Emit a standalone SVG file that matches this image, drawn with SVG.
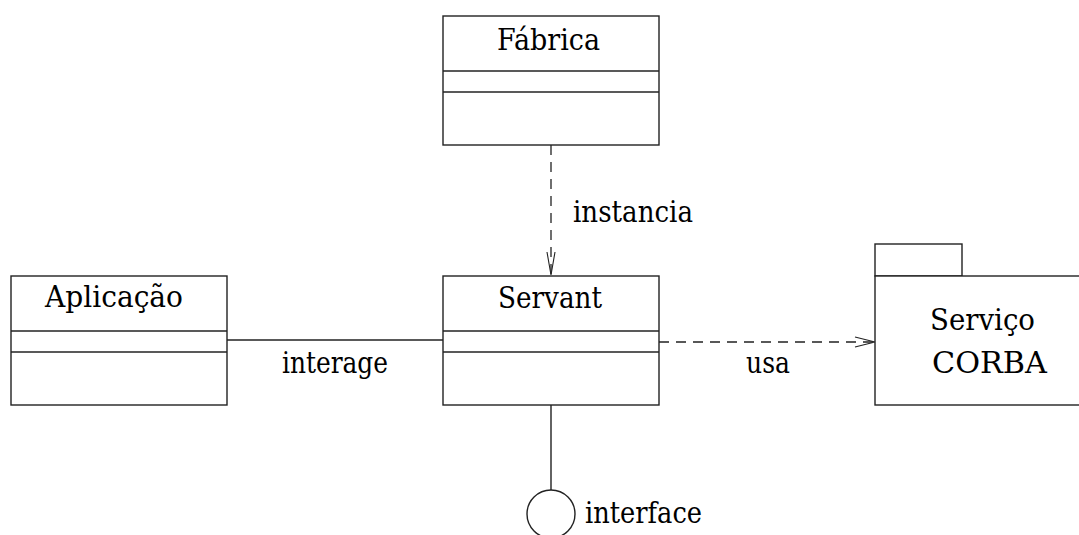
<svg xmlns="http://www.w3.org/2000/svg" width="1079" height="535" viewBox="0 0 1079 535">
  <style>
    .box { fill: #fff; stroke: #222; stroke-width: 1.4; }
    .ln { fill: none; stroke: #222; stroke-width: 1.4; }
    .dash { fill: none; stroke: #222; stroke-width: 1.3; stroke-dasharray: 10 7; }
    .head { fill: none; stroke: #222; stroke-width: 1.1; }
    .lbl { font-family: "DejaVu Serif", serif; font-size: 30px; fill: #000; }
  </style>
  <rect width="1079" height="535" fill="#fff"/>

  <g id="connectors">
    <!-- Aplicação — Servant association -->
    <line class="ln" x1="227" y1="340" x2="443" y2="340"/>
    <!-- Fábrica instantiates Servant -->
    <line class="dash" x1="551" y1="145" x2="551" y2="274"/>
    <polyline class="head" points="547,252 551,275 555,252"/>
    <!-- Servant uses Serviço CORBA -->
    <line class="dash" x1="659" y1="342" x2="874" y2="342"/>
    <polyline class="head" points="855,337 875,342 855,347"/>
    <!-- lollipop interface -->
    <line class="ln" x1="551" y1="405" x2="551" y2="490"/>
    <text class="lbl" x="282" y="373" textLength="106" lengthAdjust="spacingAndGlyphs">interage</text>
    <text class="lbl" x="573" y="222" textLength="120" lengthAdjust="spacingAndGlyphs">instancia</text>
    <text class="lbl" x="746" y="373" textLength="44" lengthAdjust="spacingAndGlyphs">usa</text>
  </g>

  <g id="fabrica">
    <rect class="box" x="443" y="16" width="216" height="129"/>
    <line class="ln" x1="443" y1="71" x2="659" y2="71"/>
    <line class="ln" x1="443" y1="92" x2="659" y2="92"/>
    <text class="lbl" x="497" y="50" textLength="103" lengthAdjust="spacingAndGlyphs">Fábrica</text>
  </g>

  <g id="aplicacao">
    <rect class="box" x="11" y="276" width="216" height="129"/>
    <line class="ln" x1="11" y1="331" x2="227" y2="331"/>
    <line class="ln" x1="11" y1="352" x2="227" y2="352"/>
    <text class="lbl" x="45" y="307" textLength="138" lengthAdjust="spacingAndGlyphs">Aplicação</text>
  </g>

  <g id="servant">
    <rect class="box" x="443" y="276" width="216" height="129"/>
    <line class="ln" x1="443" y1="331" x2="659" y2="331"/>
    <line class="ln" x1="443" y1="352" x2="659" y2="352"/>
    <text class="lbl" x="498" y="308" textLength="104" lengthAdjust="spacingAndGlyphs">Servant</text>
  </g>

  <g id="servico-corba">
    <rect class="box" x="875" y="244" width="87" height="32"/>
    <rect class="box" x="875" y="276" width="220" height="129"/>
    <text class="lbl" x="930" y="330" textLength="105" lengthAdjust="spacingAndGlyphs">Serviço</text>
    <text class="lbl" x="932" y="373" textLength="115" lengthAdjust="spacingAndGlyphs">CORBA</text>
  </g>

  <g id="interface">
    <circle class="ln" cx="551" cy="514" r="24"/>
    <text class="lbl" x="585" y="523" textLength="117" lengthAdjust="spacingAndGlyphs">interface</text>
  </g>
</svg>
